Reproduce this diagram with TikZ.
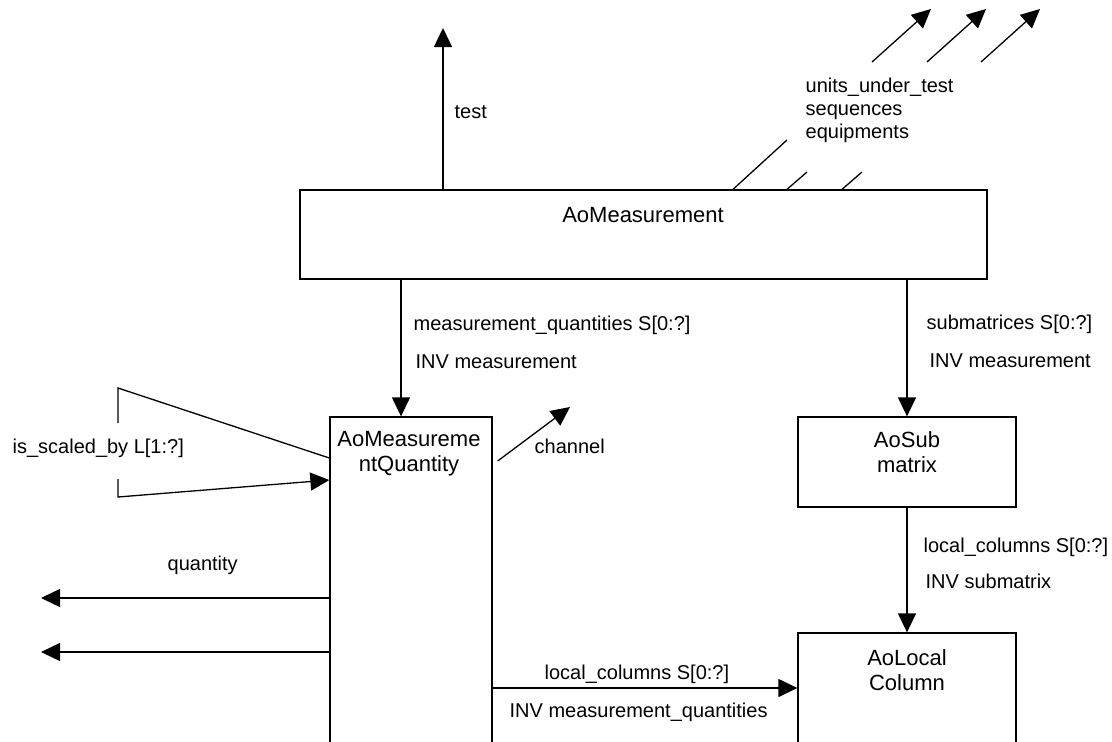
\documentclass[tikz,border=0pt]{standalone}
\usepackage{fontspec}
\setmainfont{Liberation Sans}
\usetikzlibrary{arrows.meta}

\begin{document}
\begin{tikzpicture}[x=1pt, y=-1pt, line width=1.3pt,
    box/.style={draw, rectangle, inner sep=0pt},
    boxname/.style={align=center, anchor=north, inner sep=0pt, font=\fontsize{22}{25}\selectfont},
    lab/.style={anchor=base west, inner sep=0pt, font=\fontsize{20}{23}\selectfont},
    arr/.style={-{Triangle[length=19pt, width=18pt]}}]
    \useasboundingbox (0, 0) rectangle (1112, 742);
    \clip (0, 0) rectangle (1112, 742);

    \node[box, minimum width=687pt, minimum height=89pt] at (643.5, 234.5) (meas) {};
    \node[boxname] at (643, 207) (measname) {AoMeasurement};
    \node[box, minimum width=162pt, minimum height=340pt] at (411, 587) (mq) {};
    \node[boxname] at (409, 431) (mqname) {AoMeasureme\\ntQuantity};
    \node[box, minimum width=218pt, minimum height=90pt] at (907, 462) (sub) {};
    \node[boxname] at (907, 431) (subname) {AoSub\\matrix};
    \node[box, minimum width=218pt, minimum height=120pt] at (907, 693) (loc) {};
    \node[boxname] at (907, 649) (locname) {AoLocal\\Column};

    % labels
    \node[lab] at (454, 118) (testlab) {test};
    \node[lab, align=left, anchor=north west] at (805, 77) (attrlab) {units\_under\_test\\sequences\\equipments};
    \node[lab] at (413, 330) (mqlab) {measurement\_quantities S[0:?]};
    \node[lab] at (415, 368) (mqinv) {INV measurement};
    \node[lab] at (926, 329) (sublab) {submatrices S[0:?]};
    \node[lab] at (929, 367) (subinv) {INV measurement};
    \node[lab] at (923, 552) (loclab) {local\_columns S[0:?]};
    \node[lab] at (925, 588) (locinv) {INV submatrix};
    \node[lab] at (544, 679) (mqloclab) {local\_columns S[0:?]};
    \node[lab] at (509, 717) (mqlocinv) {INV measurement\_quantities};
    \node[lab] at (534, 453) (chanlab) {channel};
    \node[lab] at (12, 453) (scalelab) {is\_scaled\_by L[1:?]};
    \node[lab] at (167, 570) (qtylab) {quantity};

    % free ends
    \coordinate (testend) at (443, 28);
    \coordinate (chanend) at (570, 407);
    \coordinate (qtyend1) at (41, 598);
    \coordinate (qtyend2) at (41, 652);
    \coordinate (scaletop) at (118, 388);
    \coordinate (scaletopend) at (118, 423);
    \coordinate (scalebot) at (118, 497);
    \coordinate (scalebotend) at (118, 479);
    \coordinate (mqin) at ([xshift=-10pt]mq.north);
    \coordinate (u1) at (787, 140);
    \coordinate (u2) at (807, 172);
    \coordinate (u3) at (862, 172);

    % edges
    \draw[arr] (meas.north -| testend) -- (testend);
    \draw[arr] (meas.south -| mqin) -- (mqin);
    \draw[arr] (meas.south -| sub.north) -- (sub.north);
    \draw[arr] (sub.south) -- (loc.north);
    \draw[arr] ([yshift=-101pt]mq.east) -- ([yshift=5pt]loc.west);
    \draw[arr] (qtyend1 -| mq.west) -- (qtyend1);
    \draw[arr] (qtyend2 -| mq.west) -- (qtyend2);
    \draw[arr] ([xshift=5pt, yshift=126pt]mq.east) -- (chanend);

    % is_scaled_by loop
    \draw (scaletopend) -- (scaletop) -- ([yshift=129pt]mq.west);
    \draw[arr] (scalebotend) -- (scalebot) -- ([yshift=107pt]mq.west);

    % attribute stubs
    \draw ([xshift=89.5pt]meas.north) -- (u1);
    \draw ([xshift=143.5pt]meas.north) -- (u2);
    \draw ([xshift=198.5pt]meas.north) -- (u3);
    \foreach \x/\n in {872/1, 927/2, 981/3} {
        \coordinate (from\n) at (\x, 62);
        \coordinate (to\n) at (\x+59, 9);
        \draw[arr] (from\n) -- (to\n);
    }
\end{tikzpicture}
\end{document}
